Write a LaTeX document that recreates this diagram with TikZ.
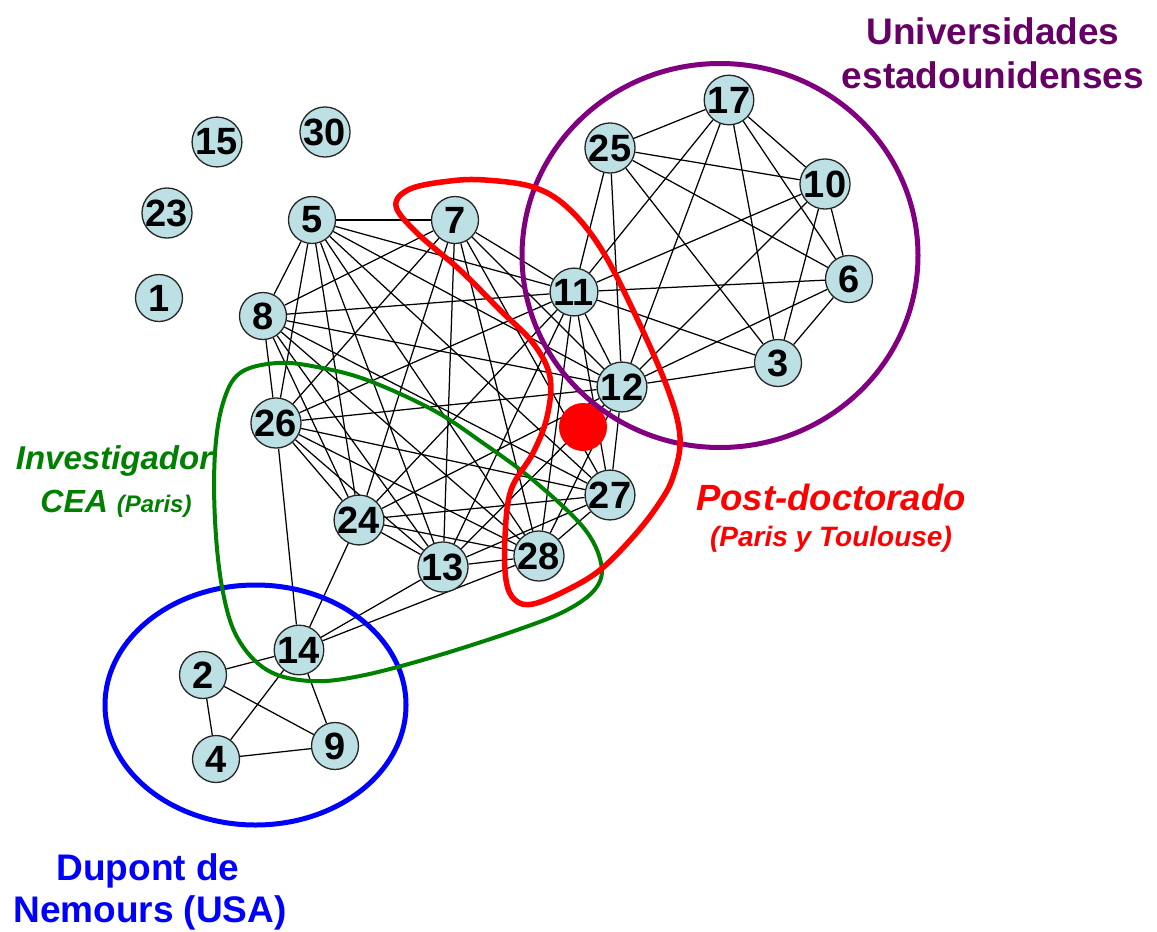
\documentclass[tikz,border=0pt]{standalone}
\usepackage{fontspec}
\setmainfont{Liberation Sans}
\usetikzlibrary{backgrounds}
\definecolor{nodefill}{HTML}{BCE0E4}
\definecolor{purp}{HTML}{800080}
\definecolor{purptext}{HTML}{660066}
\definecolor{grn}{HTML}{008000}
\definecolor{blu}{HTML}{0000FF}
\definecolor{rd}{HTML}{FF0000}
\begin{document}
\begin{tikzpicture}[x=1pt,y=-1pt,
  vtx/.style={circle,draw=black!85,line width=1.3pt,fill=nodefill,minimum size=47pt,inner sep=0pt,font=\fontsize{38}{38}\selectfont\bfseries},
  edge/.style={line width=1.25pt,black},
  lbl/.style={anchor=base,inner sep=0pt,align=center}]
\useasboundingbox (0,0) rectangle (1157,932);
% nodes
\node[vtx] (n17) at (729,100) {17};
\node[vtx] (n25) at (610,148) {25};
\node[vtx] (n10) at (825,184) {10};
\node[vtx] (n6) at (849,279) {6};
\node[vtx] (n3) at (778,363) {3};
\node[vtx] (n11) at (574,292) {11};
\node[vtx] (n12) at (622,387) {12};
\node[vtx] (n7) at (455,220) {7};
\node[vtx] (n5) at (312,220) {5};
\node[vtx] (n8) at (263,316) {8};
\node[vtx] (n26) at (276,423) {26};
\node[vtx] (n24) at (359,520) {24};
\node[vtx] (n13) at (443,567) {13};
\node[vtx] (n28) at (539,556) {28};
\node[vtx] (n27) at (610,495) {27};
\node[vtx] (n14) at (299,650) {14};
\node[vtx] (n2) at (203,675) {2};
\node[vtx] (n4) at (216,759) {4};
\node[vtx] (n9) at (335,746) {9};
\node[vtx] (n15) at (217,142) {15};
\node[vtx] (n30) at (325,132) {30};
\node[vtx] (n23) at (167,213) {23};
\node[vtx] (n1) at (159,298) {1};
% edges (behind nodes)
\begin{pgfonlayer}{background}
\foreach \a/\b in {17/25,17/10,17/6,17/3,17/11,17/12,
                   25/10,25/6,25/3,25/11,25/12,
                   10/6,10/3,10/11,10/12,
                   6/3,6/11,6/12,
                   3/11,3/12,
                   11/12,
                   5/7,5/8,5/11,5/12,5/13,5/24,5/26,5/27,5/28,
                   7/8,7/11,7/12,7/13,7/24,7/26,7/27,7/28,
                   8/11,8/12,8/13,8/24,8/26,8/27,8/28,
                   11/13,11/24,11/26,11/27,11/28,
                   12/13,12/24,12/26,12/27,12/28,
                   13/24,13/26,13/27,13/28,
                   24/26,24/27,24/28,
                   26/27,26/28,
                   27/28,
                   14/26,14/24,14/13,14/28,
                   14/2,14/4,14/9,2/4,2/9,4/9}
  \draw[edge] (n\a) -- (n\b);
\end{pgfonlayer}
% red dot
\node[circle,fill=rd,minimum size=48pt,inner sep=0pt] (dot) at (583,427) {};
% group outlines
\draw[purp,line width=5pt] (720,255.5) ellipse [x radius=198, y radius=192];
\draw[blu,line width=5pt] (255.5,705) ellipse [x radius=150.5, y radius=120];
\draw[grn,line width=4pt] plot[smooth cycle,tension=0.6] coordinates {
 (277,363) (240,373) (223,403) (215,453) (215,520) (222,587) (237,637) (267,670)
 (310,681) (360,676) (433,657) (517,630) (567,610) (596,588) (601,563) (583,527)
 (533,480) (483,443) (433,410) (367,380) (317,367)};
\draw[rd,line width=5.5pt] plot[smooth cycle,tension=0.6] coordinates {
 (396,206) (410,189) (450,181) (485,180) (533,187) (567,207) (600,247) (633,310)
 (667,387) (680,437) (673,477) (658,505) (633,537) (600,570) (567,590) (533,604)
 (515,600) (506,580) (505,537) (511,490) (533,453) (547,417) (550,377) (533,343)
 (500,310) (460,270) (417,233)};
% labels
\node[lbl,text=purptext,font=\fontsize{37}{37}\selectfont\bfseries] (u1) at (993,44) {Universidades};
\node[lbl,text=purptext,font=\fontsize{37}{37}\selectfont\bfseries] (u2) at (993,88) {estadounidenses};
\node[lbl,text=grn,font=\fontsize{33}{33}\selectfont\bfseries\itshape] (g1) at (114,469) {Investigador};
\node[lbl,text=grn,font=\fontsize{32}{32}\selectfont\bfseries\itshape] (g2) at (116,512) {CEA {\fontsize{24}{24}\selectfont(Paris)}};
\node[lbl,text=rd,font=\fontsize{36.5}{36.5}\selectfont\bfseries\itshape] (r1) at (831,510) {Post-doctorado};
\node[lbl,text=rd,font=\fontsize{28}{28}\selectfont\bfseries\itshape] (r2) at (831,546) {(Paris y Toulouse)};
\node[lbl,text=blu,font=\fontsize{37}{37}\selectfont\bfseries] (b1) at (148,880) {Dupont de};
\node[lbl,text=blu,font=\fontsize{37}{37}\selectfont\bfseries] (b2) at (150,922) {Nemours (USA)};
\end{tikzpicture}
\end{document}
